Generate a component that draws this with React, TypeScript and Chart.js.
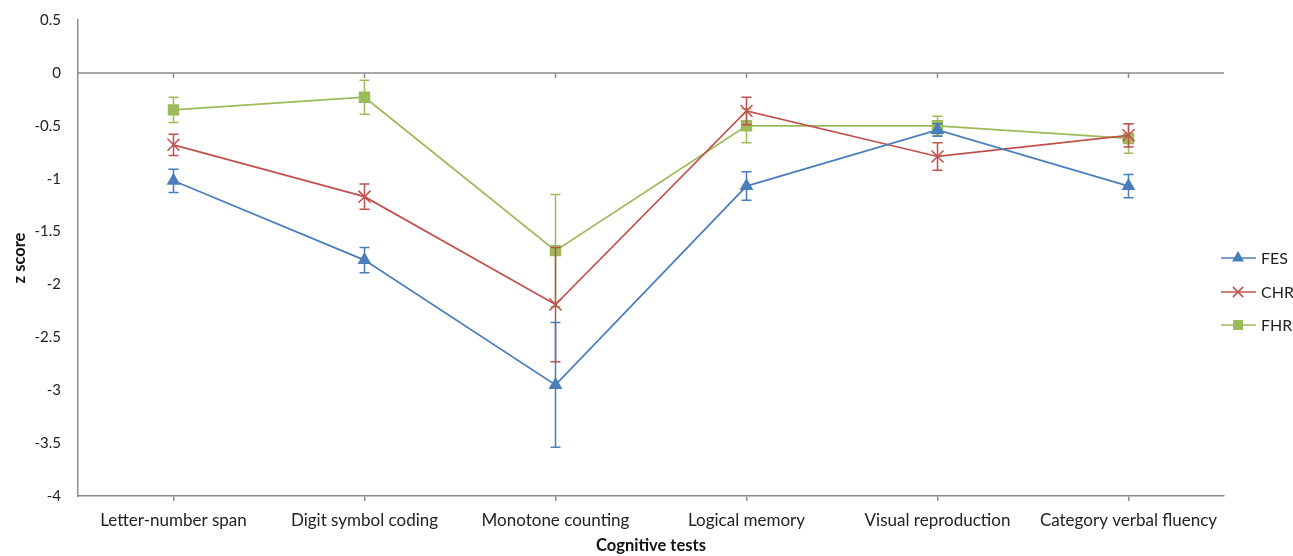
import React, { useEffect, useRef } from "react";
import { Chart, registerables } from "chart.js";

Chart.register(...registerables);

const categories = [
  "Letter-number span",
  "Digit symbol coding",
  "Monotone counting",
  "Logical memory",
  "Visual reproduction",
  "Category verbal fluency",
];
const fesValues = [-1.02, -1.77, -2.95, -1.07, -0.54, -1.07];
const fesErrors = [0.11, 0.12, 0.59, 0.135, 0.06, 0.11];
const chrValues = [-0.68, -1.17, -2.19, -0.36, -0.79, -0.59];
const chrErrors = [0.1, 0.12, 0.54, 0.13, 0.13, 0.11];
const fhrValues = [-0.35, -0.23, -1.68, -0.5, -0.5, -0.62];
const fhrErrors = [0.12, 0.16, 0.53, 0.16, 0.09, 0.14];
const yTicks = [0.5, 0, -0.5, -1, -1.5, -2, -2.5, -3, -3.5, -4];

const FONT = "Lato, 'Open Sans', sans-serif";
const AXIS = "#8c8c8c";
const BLUE = "#4a7ebb";
const RED = "#c0504d";
const GREEN = "#9bbb59";

const seriesMeta = [
  { label: "FES", color: BLUE, style: "triangle", radius: 6.5, err: fesErrors },
  { label: "CHR", color: RED, style: "crossRot", radius: 8.5, err: chrErrors },
  { label: "FHR", color: GREEN, style: "rect", radius: 7, err: fhrErrors },
];

function drawMarker(ctx: CanvasRenderingContext2D, style: string, r: number, x: number, y: number) {
  ctx.beginPath();
  if (style === "triangle") {
    ctx.moveTo(x, y - r);
    ctx.lineTo(x + r * 0.866, y + r * 0.5);
    ctx.lineTo(x - r * 0.866, y + r * 0.5);
    ctx.closePath();
    ctx.fill();
    ctx.stroke();
  } else if (style === "crossRot") {
    const s = r * 0.707;
    ctx.moveTo(x - s, y - s);
    ctx.lineTo(x + s, y + s);
    ctx.moveTo(x - s, y + s);
    ctx.lineTo(x + s, y - s);
    ctx.stroke();
  } else {
    const s = r * 0.707;
    ctx.rect(x - s, y - s, 2 * s, 2 * s);
    ctx.fill();
    ctx.stroke();
  }
}

const errorBarPlugin = {
  id: "errorBars",
  afterDatasetDraw(chart: any, args: any) {
    const ds = chart.data.datasets[args.index];
    const errs: number[] = ds.errors;
    if (!errs) return;
    const meta = chart.getDatasetMeta(args.index);
    const y = chart.scales.y;
    const ctx = chart.ctx;
    ctx.save();
    ctx.strokeStyle = ds.borderColor;
    ctx.lineWidth = 1.5;
    meta.data.forEach((pt: any, i: number) => {
      const v = ds.data[i];
      const top = y.getPixelForValue(v + errs[i]);
      const bot = y.getPixelForValue(v - errs[i]);
      const x = pt.x;
      ctx.beginPath();
      ctx.moveTo(x, top);
      ctx.lineTo(x, bot);
      ctx.moveTo(x - 5, top);
      ctx.lineTo(x + 5, top);
      ctx.moveTo(x - 5, bot);
      ctx.lineTo(x + 5, bot);
      ctx.stroke();
    });
    ctx.restore();
  },
};

const axisLinesPlugin = {
  id: "axisLines",
  beforeDatasetsDraw(chart: any) {
    const { ctx, chartArea, scales } = chart;
    const y0 = scales.y.getPixelForValue(0);
    ctx.save();
    ctx.strokeStyle = AXIS;
    ctx.lineWidth = 1.5;
    ctx.beginPath();
    ctx.moveTo(chartArea.left, y0);
    ctx.lineTo(chartArea.right, y0);
    for (let i = 0; i < categories.length; i++) {
      const x = scales.x.getPixelForValue(i);
      ctx.moveTo(x, y0);
      ctx.lineTo(x, y0 + 5);
    }
    ctx.stroke();
    ctx.restore();
  },
};

const legendPlugin = {
  id: "customLegend",
  afterDraw(chart: any) {
    const ctx = chart.ctx;
    const ys = [258, 292, 325];
    ctx.save();
    seriesMeta.forEach((s, i) => {
      const y = ys[i];
      ctx.strokeStyle = s.color;
      ctx.fillStyle = s.color;
      ctx.lineWidth = 1.5;
      ctx.beginPath();
      ctx.moveTo(1221, y);
      ctx.lineTo(1256, y);
      ctx.stroke();
      drawMarker(ctx, s.style, s.radius * 0.85, 1238, y);
      ctx.fillStyle = "#222";
      ctx.font = `16px ${FONT}`;
      ctx.textBaseline = "middle";
      ctx.textAlign = "left";
      ctx.fillText(s.label, 1261, y + 1);
    });
    ctx.restore();
  },
};

export default function App() {
  const ref = useRef<HTMLCanvasElement>(null);
  useEffect(() => {
    document.body.style.margin = "0";
    const valuesList = [fesValues, chrValues, fhrValues];
    const chart = new Chart(ref.current!, {
      type: "line",
      data: {
        labels: categories,
        datasets: seriesMeta.map((s, i) => ({
          label: s.label,
          data: valuesList[i],
          errors: s.err,
          borderColor: s.color,
          backgroundColor: s.color,
          pointBackgroundColor: s.color,
          pointBorderColor: s.color,
          pointStyle: s.style,
          pointRadius: s.radius,
          pointBorderWidth: 1.5,
          borderWidth: 1.7,
          tension: 0,
        })) as any,
      },
      options: {
        animation: false,
        responsive: false,
        layout: { padding: { top: 20, right: 69, left: 10, bottom: 0 } },
        plugins: {
          legend: { display: false },
          tooltip: { enabled: false },
        },
        scales: {
          x: {
            type: "category",
            offset: true,
            grid: {
              offset: false,
              drawOnChartArea: false,
              drawTicks: true,
              tickLength: 5,
              color: AXIS,
              lineWidth: 1.5,
            },
            border: { display: true, color: AXIS, width: 1.5 },
            ticks: {
              color: "#222",
              font: { family: FONT, size: 17 },
              padding: 9,
              maxRotation: 0,
              autoSkip: false,
            },
            title: {
              display: true,
              text: "Cognitive tests",
              color: "#111",
              font: { family: FONT, size: 16.5, weight: "bold" },
              padding: { top: 7, bottom: 0 },
            },
            afterFit(scale: any) {
              scale.height = 60;
            },
          },
          y: {
            min: -4,
            max: 0.5,
            afterBuildTicks(scale: any) {
              scale.ticks = yTicks.map((v) => ({ value: v }));
            },
            grid: { display: false, drawTicks: false },
            border: { display: true, color: AXIS, width: 1.5 },
            ticks: {
              color: "#222",
              font: { family: FONT, size: 15 },
              padding: 17,
              callback: (v: any) => String(v),
            },
            title: {
              display: true,
              text: "z score",
              color: "#111",
              font: { family: FONT, size: 16.5, weight: "bold" },
              padding: { top: 0, bottom: 0 },
            },
            afterFit(scale: any) {
              scale.width = 68;
              scale.paddingTop = 0;
              scale.paddingBottom = 0;
            },
          },
        },
      } as any,
      plugins: [axisLinesPlugin, errorBarPlugin, legendPlugin],
    });
    return () => chart.destroy();
  }, []);
  return <canvas ref={ref} width={1293} height={556} style={{ display: "block" }} />;
}
